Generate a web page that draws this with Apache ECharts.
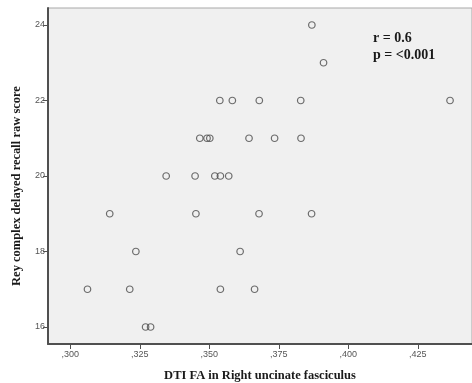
<!DOCTYPE html>
<html>
<head>
<meta charset="utf-8">
<script src="https://cdn.jsdelivr.net/npm/echarts@6/dist/echarts.min.js"></script>
<style>html,body{margin:0;padding:0;background:#fff}#c{width:472px;height:383px}</style>
</head>
<body>
<div id="c"></div>
<script>
// Data
const faValues = [
  0.3869, 0.3911,
  0.3538, 0.3583, 0.3680, 0.3829, 0.4366,
  0.3466, 0.3492, 0.3502, 0.3643, 0.3735, 0.3830,
  0.3345, 0.3449, 0.3520, 0.3540, 0.3570,
  0.3142, 0.3452, 0.3679, 0.3868,
  0.3236, 0.3611,
  0.3062, 0.3214, 0.3540, 0.3663,
  0.3271, 0.3289
];
const reyScores = [
  24, 23,
  22, 22, 22, 22, 22,
  21, 21, 21, 21, 21, 21,
  20, 20, 20, 20, 20,
  19, 19, 19, 19,
  18, 18,
  17, 17, 17, 17,
  16, 16
];
const xTicks = [0.300, 0.325, 0.350, 0.375, 0.400, 0.425];
const yTicks = [16, 18, 20, 22, 24];
const xTitle = 'DTI FA in Right uncinate fasciculus';
const yTitle = 'Rey complex delayed recall raw score';
const statLines = ['r = 0.6', 'p = <0.001'];

const points = faValues.map((v, i) => [v, reyScores[i]]);
const serif = '"Liberation Serif", "DejaVu Serif", serif';

const chart = echarts.init(document.getElementById('c'), null, {renderer: 'canvas'});
chart.setOption({
  animation: false,
  backgroundColor: '#ffffff',
  grid: {
    left: 48, top: 8, right: 0, bottom: 39,
    outerBoundsMode: 'none', containLabel: false,
    show: true, backgroundColor: '#f0f0f0', borderColor: '#a8a8a8', borderWidth: 1
  },
  xAxis: {
    type: 'value', min: 0.292, max: 0.4445,
    name: xTitle, nameLocation: 'middle', nameGap: 25,
    nameTextStyle: {fontFamily: serif, fontWeight: 'bold', fontSize: 12.5, color: '#1a1a1a'},
    axisLine: {show: true, onZero: false, lineStyle: {color: '#505050', width: 2}},
    axisTick: {show: true, length: 5, customValues: xTicks, lineStyle: {color: '#505050', width: 1}},
    axisLabel: {
      customValues: xTicks, fontSize: 9, color: '#555', margin: 6, fontFamily: 'Liberation Sans, Arial, sans-serif',
      formatter: v => v.toFixed(3).replace('0.', ',')
    },
    splitLine: {show: false}
  },
  yAxis: {
    type: 'value', min: 15.55, max: 24.45,
    name: yTitle, nameLocation: 'middle', nameGap: 25, nameRotate: 90,
    nameTextStyle: {fontFamily: serif, fontWeight: 'bold', fontSize: 12.5, color: '#1a1a1a', padding: [0, 20, 0, 0]},
    axisLine: {show: true, onZero: false, lineStyle: {color: '#505050', width: 2}},
    axisTick: {show: true, length: 5, customValues: yTicks, lineStyle: {color: '#505050', width: 1}},
    axisLabel: {customValues: yTicks, fontSize: 9, color: '#555', margin: 3, fontFamily: 'Liberation Sans, Arial, sans-serif'},
    splitLine: {show: false}
  },
  graphic: [{
    type: 'text', left: 373, top: 30,
    style: {text: statLines.join('\n'), font: 'bold 14px ' + serif, fill: '#1a1a1a', lineHeight: 17}
  }],
  series: [{
    type: 'scatter', data: points, symbol: 'circle', symbolSize: 6.5,
    itemStyle: {color: 'rgba(0,0,0,0)', borderColor: '#4a4a4a', borderWidth: 1.2}
  }]
});
</script>
</body>
</html>
